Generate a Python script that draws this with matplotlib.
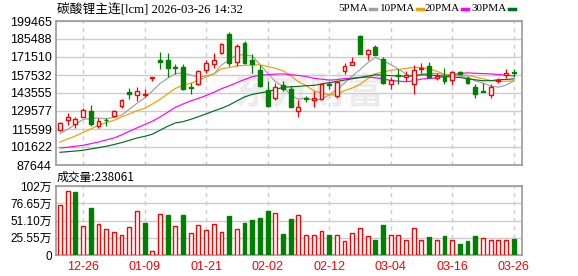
import numpy as np
import matplotlib.pyplot as plt

# ---- data ----
opens = [114600, 122600, 119200, 124900, 129600, 117700, 122900, 125500, 133200, 144600,
         141800, 142300, 155500, 168900, 169400, 164000, 164000, 148000, 150300, 161400,
         166100, 174400, 189600, 167600, 182600, 169400, 161700, 146200, 139900, 149500,
         146400, 129600, 139900, 138500, 138700, 150300, 141000, 160700, 165300, 187600,
         174100, 179300, 170200, 150800, 157500, 156200, 150600, 161900, 164500, 155500,
         156800, 153700, 159900, 155000, 148200, 145400, 142000, 152900, 157300, 159600]
highs = [121000, 128300, 124900, 131700, 134300, 124200, 124400, 130600, 138700, 147200,
         148200, 146400, 156300, 175100, 174600, 165800, 166300, 151100, 161400, 169200,
         174900, 182600, 190700, 181600, 183900, 174100, 165000, 152900, 151300, 152900,
         149000, 138400, 141500, 145000, 151000, 152400, 152800, 167100, 171500, 188600,
         177500, 180600, 171500, 156000, 162000, 160700, 165300, 167100, 167900, 159400,
         163200, 160700, 160700, 156800, 150800, 151300, 150300, 155000, 161900, 162500]
lows = [113800, 118700, 116700, 124700, 117700, 116100, 117700, 124700, 132200, 138900,
        137400, 140500, 152900, 162200, 156000, 158100, 146200, 142500, 149500, 159400,
        163200, 173600, 164500, 164500, 165800, 159400, 148500, 133000, 137900, 145100,
        132700, 124900, 136800, 133000, 138400, 146400, 140000, 158100, 165000, 173600,
        168900, 173100, 150800, 146400, 150300, 152900, 142500, 159400, 155500, 153400,
        150300, 149500, 157500, 150300, 139900, 144100, 139900, 151100, 155500, 156200]
closes = [120300, 125200, 123600, 130400, 119200, 122100, 122300, 129600, 138100, 142500,
          145100, 143100, 156300, 167600, 162700, 163200, 146400, 147200, 160700, 167100,
          169400, 181900, 167100, 180300, 166600, 165800, 148700, 133200, 148200, 146900,
          132700, 132900, 138700, 139500, 150300, 149500, 152300, 164500, 167400, 174100,
          176700, 173100, 151100, 153400, 156500, 157300, 161400, 162700, 156000, 156500,
          152900, 159900, 158100, 151300, 143100, 144100, 148500, 153700, 159400, 159100]
# volume in 万
volumes = [73.7, 94.3, 93.4, 42.8, 69.8, 45.7, 38.8, 33.9, 29.5, 41.3,
           65.4, 47.7, 5.9, 60.4, 59.5, 42.8, 59.5, 32.4, 44.2, 37.3,
           45.7, 33.9, 58.0, 38.8, 47.7, 52.1, 55.0, 65.4, 61.9, 31.4,
           53.6, 59.0, 29.5, 29.5, 35.4, 30.0, 29.5, 20.6, 32.4, 39.8,
           28.0, 22.6, 44.2, 29.5, 29.5, 22.6, 39.8, 22.6, 26.5, 22.6,
           28.0, 22.6, 16.2, 20.6, 28.0, 25.1, 22.6, 22.6, 22.6, 23.8]

ma5 = [112000, 115400, 119200, 123100, 123700, 124100, 123500, 124700, 126300, 130900,
       135500, 139700, 145000, 150900, 155000, 158600, 159200, 157400, 156000, 156900,
       158200, 165300, 169200, 173200, 173100, 172300, 165700, 158900, 152500, 148600,
       142000, 138700, 139800, 138100, 138800, 142100, 146100, 151200, 156800, 161600,
       167000, 171200, 168500, 165700, 162100, 158300, 155900, 158300, 158800, 158800,
       157900, 157600, 156700, 155700, 153000, 151300, 149000, 148100, 149700, 152900]
ma10 = [105500, 107900, 110200, 112800, 115600, 118500, 120500, 122300, 124900, 127300,
        129800, 131600, 134900, 138600, 142900, 147100, 149500, 151200, 153500, 155900,
        158400, 162300, 163300, 164600, 165000, 165300, 165500, 164100, 162800, 160800,
        157200, 152200, 149400, 145300, 143700, 142000, 142400, 145500, 147400, 150200,
        154600, 158600, 159800, 161200, 161900, 162600, 163500, 163400, 162200, 160500,
        158100, 156800, 157500, 157300, 155900, 154600, 153300, 152400, 152700, 153000]
ma20 = [100900, 101400, 102200, 102900, 104200, 105500, 107100, 108600, 111000, 113800,
        116400, 119000, 121600, 124900, 128600, 132400, 135000, 137400, 139400, 141600,
        144100, 146900, 149100, 151600, 154000, 156200, 157500, 157700, 158200, 158400,
        157800, 157200, 156400, 155000, 154300, 153600, 153900, 154800, 155100, 155500,
        155900, 155400, 154600, 153300, 152800, 152300, 153000, 154400, 154800, 155300,
        156300, 157700, 158700, 159200, 158900, 158600, 158400, 157900, 157500, 156700]
ma30 = [97500, 98000, 98500, 99100, 100100, 101100, 102200, 103500, 105000, 106800,
        108600, 109900, 111500, 114600, 117700, 120300, 121300, 123100, 125200, 127300,
        129600, 131700, 134200, 137400, 140500, 142500, 143600, 144600, 146200, 148000,
        148400, 148700, 149200, 149500, 150500, 151500, 152500, 153600, 154600, 155600,
        156700, 157700, 157500, 157000, 156800, 156600, 157100, 157700, 157500, 157200,
        156600, 155900, 155600, 154600, 153800, 153100, 153100, 153800, 154100, 154500]

date_labels = ['12-26', '01-09', '01-21', '02-02', '02-12', '03-04', '03-16', '03-26']
date_idx = [3, 11, 19, 27, 35, 43, 51, 59]
price_ticks = [87644, 101622, 115599, 129577, 143555, 157532, 171510, 185488, 199465]
vol_ticks = [0, 25.55, 51.10, 76.65, 102.2]
vol_tick_labels = ['0', '25.55万', '51.10万', '76.65万', '102万']

ma_names = ['5PMA', '10PMA', '20PMA', '30PMA']
ma_colors = ['#a0a0a0', '#f0a000', '#ff00ff', '#006e1e']

RED = '#ff0000'
GREEN = '#008000'
CJK = ['Liberation Sans', 'Noto Sans CJK SC']

W, H = 578, 276
fig = plt.figure(figsize=(W / 100, H / 100), dpi=100)


def box(l, t, r, b):
    return [l / W, 1 - b / H, (r - l) / W, (b - t) / H]


ax = fig.add_axes(box(56, 21, 522, 165))
axv = fig.add_axes(box(56, 186, 522, 255))

o = np.array(opens)
c = np.array(closes)
x = np.arange(len(c))
up = c >= o
cols = np.where(up, RED, GREEN)
faces = np.where(up, 'white', GREEN)

# candles
ax.vlines(x, lows, highs, colors=cols, lw=0.9, zorder=3)
ax.bar(x, np.maximum(np.abs(c - o), 150), bottom=np.minimum(o, c), width=0.5,
       color=faces, edgecolor=cols, lw=1, zorder=4)

# moving averages
for vals, colr in zip([ma5, ma10, ma20, ma30], ma_colors):
    ax.plot(x, vals, color=colr, lw=0.85, zorder=2.5)

ax.text(0.545, 0.50, '东方财富', transform=ax.transAxes, fontsize=27, fontweight='bold',
        family='Noto Sans CJK SC', color='#ececec', ha='center', va='center', zorder=1)

# volume
vup = np.concatenate([[True], c[1:] >= c[:-1]])
vcols = np.where(vup, RED, GREEN)
vfaces = np.where(vup, 'white', GREEN)
axv.bar(x, volumes, width=0.5, color=vfaces, edgecolor=vcols, lw=1, zorder=3)

for a in (ax, axv):
    a.set_xlim(-0.52, 60.08)
    a.set_xticks(date_idx)
    a.grid(axis='y', color='#cccccc', lw=1, zorder=1)
    a.grid(axis='x', color='#cccccc', lw=1, ls=(0, (3, 3)), zorder=1)
    for s in a.spines.values():
        s.set_color('#999999')
        s.set_linewidth(1.2)
    a.tick_params(length=0, pad=3, labelsize=9)

ax.set_ylim(87644, 199465)
ax.set_yticks(price_ticks)
ax.set_yticklabels([str(t) for t in price_ticks], family='Liberation Sans')
ax.set_xticklabels([])

axv.set_ylim(0, 102.2)
axv.set_yticks(vol_ticks)
axv.set_yticklabels(vol_tick_labels, family=CJK, fontsize=8.5)
axv.set_xticklabels(date_labels, color=RED, family='Liberation Sans')
axv.tick_params(axis='x', pad=4)

# header texts
fig.text(57 / W, 1 - 9 / H, '碳酸锂主连[lcm] 2026-03-26 14:32', ha='left', va='center',
         fontsize=9.2, family=['Liberation Serif', 'Noto Sans CJK SC'])
fig.text(57 / W, 1 - 177.5 / H, '成交量:238061', ha='left', va='center',
         fontsize=8.5, family=['Noto Sans CJK SC'])

# legend: label followed by colour mark
renderer = fig.canvas.get_renderer()
lx = [338, 380, 425, 472]
for name, colr, px in zip(ma_names, ma_colors, lx):
    t = fig.text(px / W, 1 - 8.5 / H, name, ha='left', va='center', fontsize=8,
                 family='Liberation Serif')
    end = t.get_window_extent(renderer).x1
    fig.add_artist(plt.Line2D([(end + 2) / W, (end + 8) / W], [1 - 8.5 / H] * 2,
                              color=colr, lw=2.5, transform=fig.transFigure))

fig.savefig('out.png', dpi=100)
